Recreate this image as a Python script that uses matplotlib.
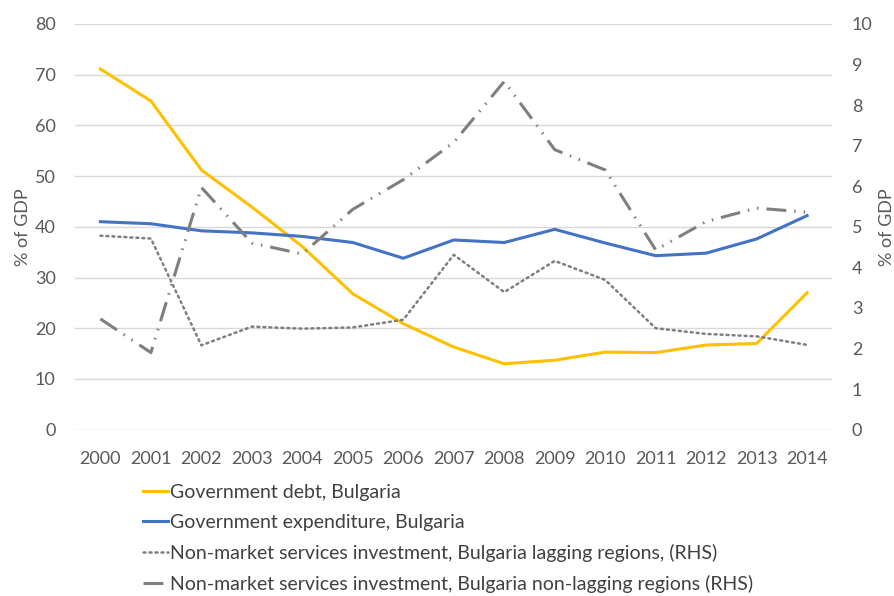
import matplotlib.pyplot as plt
import numpy as np

years = ['2000', '2001', '2002', '2003', '2004', '2005', '2006', '2007',
         '2008', '2009', '2010', '2011', '2012', '2013', '2014']

gov_debt = [71.1, 64.8, 51.2, 43.9, 36.1, 26.8, 20.9, 16.3, 13.0, 13.7, 15.3, 15.2, 16.7, 17.0, 27.0]
gov_expenditure = [41.0, 40.6, 39.2, 38.8, 38.1, 36.9, 33.8, 37.4, 36.9, 39.5, 36.8, 34.3, 34.8, 37.6, 42.2]
lagging = [4.78, 4.71, 2.08, 2.54, 2.49, 2.52, 2.71, 4.31, 3.39, 4.16, 3.69, 2.50, 2.36, 2.30, 2.09]
non_lagging = [2.73, 1.90, 5.97, 4.60, 4.33, 5.43, 6.16, 7.08, 8.58, 6.90, 6.40, 4.43, 5.13, 5.46, 5.36]

labels = ['Government debt, Bulgaria',
          'Government expenditure, Bulgaria',
          'Non-market services investment, Bulgaria lagging regions, (RHS)',
          'Non-market services investment, Bulgaria non-lagging regions (RHS)']

plt.rcParams['font.family'] = ['Lato', 'DejaVu Sans']
txt = '#595959'

fig = plt.figure(figsize=(8.95, 5.96), dpi=100)
ax = fig.add_axes([0.084, 0.279, 0.846, 0.681])
ax2 = ax.twinx()

x = np.arange(len(years))
l1, = ax.plot(x, gov_debt, color='#FFC000', lw=2.2, zorder=3)
l2, = ax.plot(x, gov_expenditure, color='#4472C4', lw=2.2, zorder=3)
l3, = ax2.plot(x, lagging, color='#7F7F7F', lw=1.8, linestyle=(0, (0.8, 1.6)),
               dash_capstyle='round')
l4, = ax2.plot(x, non_lagging, color='#7F7F7F', lw=2.2,
               linestyle=(0, (6.5, 2.6, 0.5, 2.6, 0.5, 2.6)))

ax.set_xlim(-0.5, len(years) - 0.5)
ax.set_ylim(0, 80)
ax.set_yticks(range(0, 81, 10))
ax2.set_ylim(0, 10)
ax2.set_yticks(range(0, 11))
ax.set_xticks(x)
ax.set_xticklabels(years)

ax.grid(axis='y', color='#D9D9D9', lw=1)
ax.set_axisbelow(True)
for a in (ax, ax2):
    for s in a.spines.values():
        s.set_visible(False)
    a.tick_params(length=0, colors=txt, labelsize=13)
ax.tick_params(axis='y', pad=14)
ax.tick_params(axis='x', pad=15)
ax2.tick_params(axis='y', pad=14)

ax.set_ylabel('% of GDP', color=txt, fontsize=13, labelpad=3)
ax2.set_ylabel('% of GDP', color=txt, fontsize=13, labelpad=5)

leg = fig.legend([l1, l2, l3, l4], labels, loc='upper left',
                 bbox_to_anchor=(0.160, 0.188), frameon=False, fontsize=14,
                 handlelength=1.3, handletextpad=0.1, labelspacing=0.66,
                 borderpad=0, borderaxespad=0, labelcolor='#404040')

fig.savefig('out.png', dpi=100)
